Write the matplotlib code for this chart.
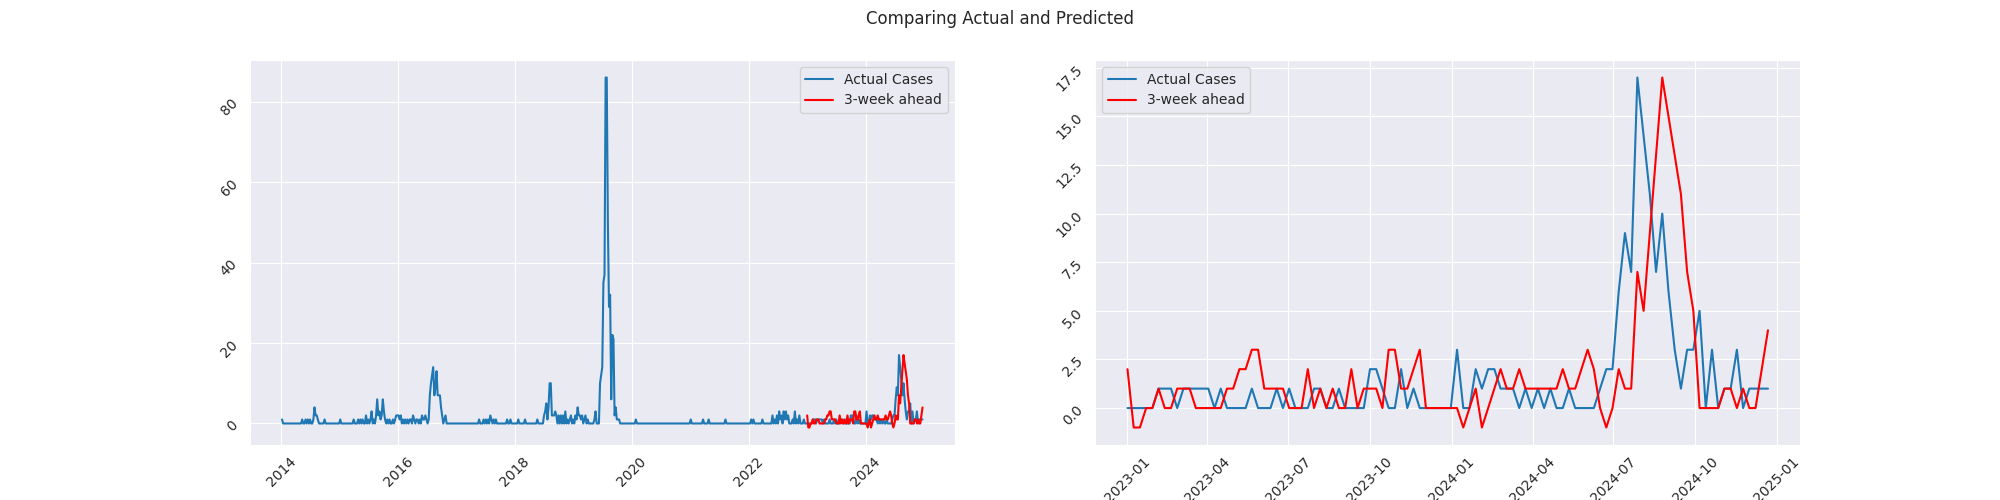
import numpy as np
import pandas as pd
import matplotlib
matplotlib.use('Agg')
import matplotlib.pyplot as plt
import seaborn as sns

# weekly case counts, one list per year (weeks ending Sunday)
cases_2014 = [1,0,0,0,0,0,0,0,0,0, 0,0,0,0,0,0,0,0,1,0,
              0,1,0,1,0,1,0,0,1,4, 2,2,1,0,0,0,0,0,1,0,
              0,0,0,0,0,0,0,0,0,0, 0,0]
cases_2015 = [1,0,0,0,0,0,0,0,0,0, 0,0,1,0,0,0,1,0,1,0,
              1,0,0,2,0,1,0,1,3,0, 1,0,2,6,2,3,1,2,6,3,
              1,0,1,0,1,0,0,1,0,1, 2,2]
cases_2016 = [2,1,2,0,1,0,1,0,1,0, 1,1,0,2,1,0,1,1,0,1,
              0,2,1,1,2,1,0,1,7,10, 12,14,7,9,13,7,7,7,4,2,
              0,1,2,0,0,0,0,0,0,0, 0,0]
cases_2017 = [0,0,0,0,0,0,0,0,0,0, 0,0,0,0,0,0,0,0,0,0,
              1,0,0,0,1,0,1,0,1,0, 2,1,0,1,0,1,0,0,0,0,
              0,0,0,0,0,1,0,0,1,0, 0,0,0]
cases_2018 = [0,0,1,0,0,0,0,0,1,0, 0,0,0,0,0,0,0,0,0,1,
              0,0,0,0,0,2,3,5,1,4, 10,10,2,2,2,3,2,0,2,0,
              2,0,2,0,3,0,1,0,1,2, 0,1]
cases_2019 = [0,2,1,4,2,2,1,2,0,1, 2,0,1,0,0,0,0,0,1,3,
              0,0,0,10,12,14,35,37,86,86, 50,29,32,6,22,21,2,4,1,1,
              1,0,0,0,0,0,0,0,0,0, 0,0]
cases_2020 = [0,0,0,1,0,0,0,0,0,0, 0,0,0,0,0,0,0,0,0,0,
              0,0,0,0,0,0,0,0,0,0, 0,0,0,0,0,0,0,0,0,0,
              0,0,0,0,0,0,0,0,0,0, 0,0]
cases_2021 = [1,0,0,0,0,0,0,0,0,0, 0,1,0,0,0,0,1,0,0,0,
              0,0,0,0,0,0,0,0,0,0, 0,1,0,0,0,0,0,0,0,0,
              0,0,0,0,0,0,0,0,0,0, 0,0]
cases_2022 = [0,0,1,0,1,0,0,0,0,0, 0,0,1,0,0,0,0,0,0,0,
              0,2,0,1,0,2,0,3,1,2, 0,3,1,3,1,2,0,0,0,1,
              0,3,0,1,0,2,0,0,0,1, 0,0]

# test period 2023-01-01 .. 2024-12-22
actual_test = [0,0,0,0,0,1,1,1,0,1, 1,1,1,1,0,1,0,0,0,0,
               1,0,0,0,1,0,1,0,0,0, 1,1,0,0,1,0,0,0,0,2,
               2,1,0,0,2,0,1,0,0,0, 0,0,0,3,0,0,2,1,2,2,
               1,1,1,0,1,0,1,0,1,0, 0,1,0,0,0,0,1,2,2,6,
               9,7,17,14,11,7,10,6,3,1, 3,3,5,0,3,0,1,1,3,0,
               1,1,1,1]
pred_3wk = [2,-1,-1,0,0,1,0,0,1,1, 1,0,0,0,0,0,1,1,2,2,
            3,3,1,1,1,1,0,0,0,2, 0,1,0,1,0,0,2,0,1,1,
            1,0,3,3,1,1,2,3,0,0, 0,0,0,0,-1,0,1,-1,0,1,
            2,1,1,2,1,1,1,1,1,1, 2,1,1,2,3,2,0,-1,0,2,
            1,1,7,5,9,13,17,15,13,11, 7,5,0,0,0,0,1,1,0,1,
            0,0,2,4]

history = (cases_2014 + cases_2015 + cases_2016 + cases_2017 + cases_2018 +
           cases_2019 + cases_2020 + cases_2021 + cases_2022)
all_cases = history + actual_test
all_dates = pd.date_range('2014-01-05', periods=len(all_cases), freq='W-SUN')
test_dates = all_dates[len(history):]

sns.set_style('darkgrid')

fig, axes = plt.subplots(1, 2, figsize=(20, 5), dpi=100)
fig.suptitle('Comparing Actual and Predicted')

ax = axes[0]
ax.plot(all_dates, all_cases, color='#1f77b4', label='Actual Cases')
ax.plot(test_dates, pred_3wk, color='red', label='3-week ahead')
ax.legend()
ax.tick_params(labelrotation=45)

ax = axes[1]
ax.plot(test_dates, actual_test, color='#1f77b4', label='Actual Cases')
ax.plot(test_dates, pred_3wk, color='red', label='3-week ahead')
ax.legend()
ax.tick_params(labelrotation=45)

plt.savefig('out.png')
